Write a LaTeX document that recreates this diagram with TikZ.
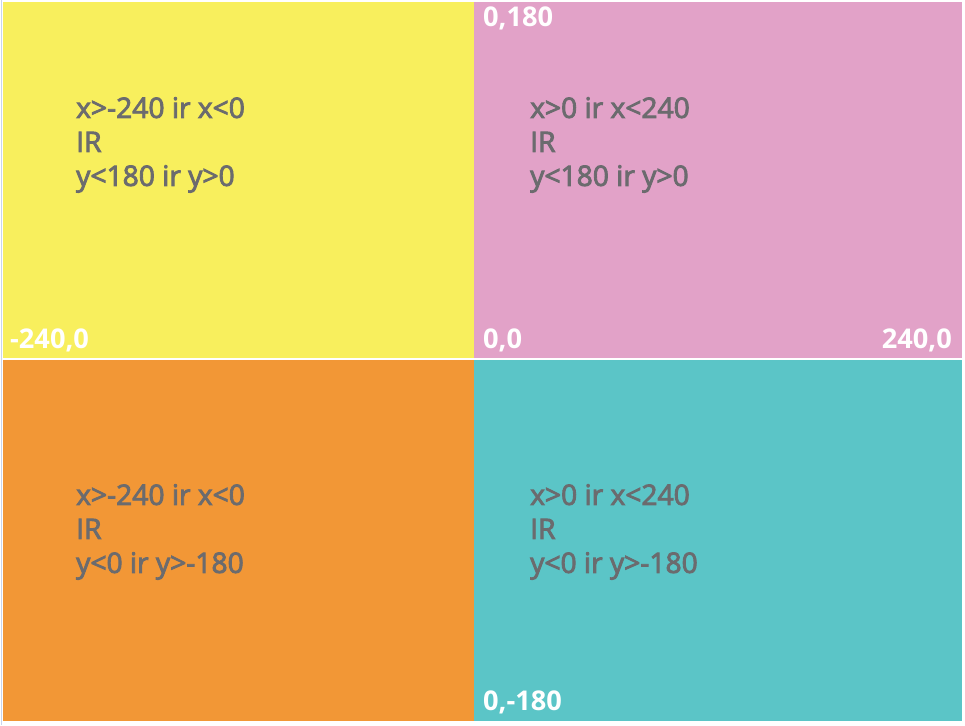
\documentclass[tikz,border=0pt]{standalone}
\usepackage{fontspec}
\setmainfont{Open Sans}
\newfontfamily\semifont{Open Sans}[FakeBold=3]
\usetikzlibrary{positioning}
\definecolor{quadyellow}{HTML}{F8EF5D}
\definecolor{quadpink}{HTML}{E2A2C8}
\definecolor{quadorange}{HTML}{F29736}
\definecolor{quadteal}{HTML}{5BC5C7}
\definecolor{condgray}{HTML}{6B6B6E}
\definecolor{edgeblue}{HTML}{C9D5EE}

\begin{document}
\begin{tikzpicture}[x=1pt,y=-1pt,
  cond/.style={align=left, anchor=north west, inner sep=0pt,
    text=condgray, font=\semifont\fontsize{28.2}{34}\selectfont},
  corner/.style={anchor=north west, inner sep=0pt,
    text=white, font=\bfseries\fontsize{27.2}{30}\selectfont}]
\useasboundingbox (0,0) rectangle (965,725);
\fill[white] (0,0) rectangle (965,725);
\draw[edgeblue, line width=1pt] (1,0) -- (1,725);

% four quarters
\fill[quadyellow] (3,2) rectangle (473.5,357.5);
\fill[quadpink] (473.5,2) rectangle (962,357.5);
\fill[quadorange] (3,359.5) rectangle (473.5,721);
\fill[quadteal] (473.5,359.5) rectangle (962,721);

% conditions
\node[cond] (yellowtext) at (76,97) {x>-240 ir x<0\\IR\\y<180 ir y>0};
\node[cond] (pinktext) at (530,97) {x>0 ir x<240\\IR\\y<180 ir y>0};
\node[cond] (orangetext) at (76,484) {x>-240 ir x<0\\IR\\y<0 ir y>-180};
\node[cond] (tealtext) at (530,484) {x>0 ir x<240\\IR\\y<0 ir y>-180};

% corner values
\node[corner] (top) at (483,7) {0,180};
\node[corner] (left) at (10,329) {-240,0};
\node[corner] (origin) at (483,329) {0,0};
\node[corner, anchor=north east] (right) at (952,329) {240,0};
\node[corner] (bottom) at (483,691) {0,-180};
\end{tikzpicture}
\end{document}
